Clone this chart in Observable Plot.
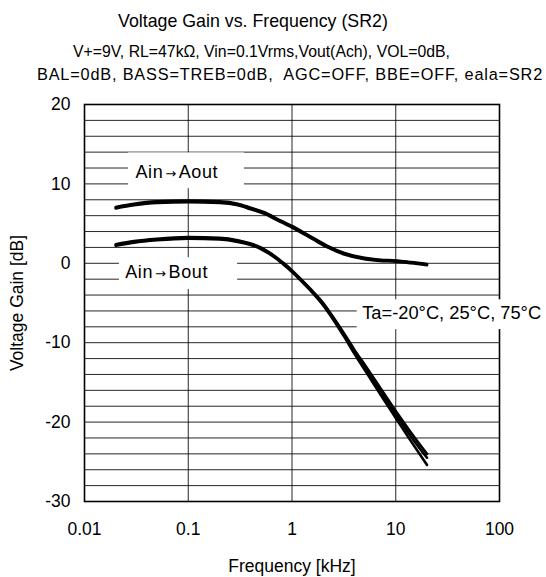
<!DOCTYPE html>
<html>
<head>
<meta charset="utf-8">
<script src="https://cdn.jsdelivr.net/npm/d3@7"></script>
<script src="https://cdn.jsdelivr.net/npm/@observablehq/plot@0.6"></script>
<style>
  body { margin: 0; background: #fff; font-family: "Liberation Sans", Arial, sans-serif; }
  #wrap { position: relative; width: 546px; height: 577px; overflow: hidden; }
  #chart { position: absolute; left: 0; top: 0; }
  .t { position: absolute; white-space: pre; color: #000; line-height: 1; }
</style>
</head>
<body>
<div id="wrap">
  <div id="chart"></div>
  <div class="t" style="left:118px; top:13px; font-size:17.8px;">Voltage Gain vs. Frequency (SR2)</div>
  <div class="t" style="left:73px; top:44px; font-size:15.8px;">V+=9V, RL=47kΩ, Vin=0.1Vrms,Vout(Ach), VOL=0dB,</div>
  <div class="t" style="left:37px; top:66px; font-size:16.3px; letter-spacing:0.82px;">BAL=0dB, BASS=TREB=0dB,  AGC=OFF, BBE=OFF, eala=SR2</div>
</div>
<script>
// ---- tick values ----
const xTicks = [0.01, 0.1, 1, 10, 100];
const yTicks = [-30, -20, -10, 0, 10, 20];
const yGrid = [-30,-28,-26,-24,-22,-20,-18,-16,-14,-12,-10,-8,-6,-4,-2,0,2,4,6,8,10,12,14,16,18,20];

// ---- Ain -> Aout (three temperatures) ----
const freqA = [0.02, 0.03, 0.05, 0.1, 0.2, 0.3, 0.4, 0.55, 0.7, 1, 1.6, 2.2, 3.2, 5, 7, 10, 14, 20];
const aoutM20 = [7.1, 7.5, 7.8, 7.9, 7.8, 7.5, 7.0, 6.4, 5.7, 4.7, 3.2, 2.2, 1.3, 0.7, 0.45, 0.35, 0.15, -0.1];
const aout25  = [7.0, 7.4, 7.7, 7.8, 7.7, 7.4, 6.9, 6.3, 5.6, 4.6, 3.1, 2.1, 1.2, 0.6, 0.4, 0.3, 0.1, -0.15];
const aout75  = [6.9, 7.3, 7.6, 7.7, 7.6, 7.3, 6.8, 6.2, 5.5, 4.5, 3.0, 2.0, 1.1, 0.5, 0.3, 0.2, 0.0, -0.25];

// ---- Ain -> Bout (three temperatures) ----
const freqB = [0.02, 0.03, 0.05, 0.1, 0.2, 0.3, 0.4, 0.5, 0.6, 0.7, 0.8, 0.9, 1, 1.2, 1.5, 2, 2.5, 3.2, 4, 5.3, 7.1, 10, 14, 20];
const boutM20 = [2.4, 2.8, 3.1, 3.3, 3.2, 2.9, 2.5, 2.0, 1.4, 0.8, 0.2, -0.35, -0.9, -1.9, -3.2, -5.0, -6.8, -8.9, -10.9, -13.2, -15.7, -18.6, -21.3, -24.0];
const bout25  = [2.3, 2.7, 3.0, 3.2, 3.1, 2.8, 2.4, 1.9, 1.3, 0.7, 0.1, -0.45, -1.0, -2.0, -3.3, -5.1, -6.9, -9.1, -11.1, -13.5, -16.0, -19.0, -21.8, -24.5];
const bout75  = [2.2, 2.6, 2.9, 3.1, 3.0, 2.7, 2.3, 1.8, 1.2, 0.6, 0.0, -0.55, -1.1, -2.1, -3.4, -5.3, -7.1, -9.3, -11.4, -13.9, -16.5, -19.5, -22.4, -25.4];

// ---- annotations (data units) ----
const labelText = ["Ain→Aout", "Ain→Bout", "Ta=-20°C, 25°C, 75°C"];
const labelFreq = [0.0776, 0.0619, 4.75];
const labelGain = [11.44, -1.09, -6.32];
const boxFreqLo = [0.0266, 0.0217, 4.25];
const boxFreqHi = [0.348, 0.299, 1000];
const boxGainLo = [9.4, -3.3, -8.35];
const boxGainHi = [13.9, 0.7, -4.6];

// build tables
const series = [];
[["Aout", "-20", aoutM20], ["Aout", "25", aout25], ["Aout", "75", aout75]].forEach(([o, t, v]) =>
  freqA.forEach((f, i) => series.push({key: o + t, f, g: v[i]})));
[["Bout", "-20", boutM20], ["Bout", "25", bout25], ["Bout", "75", bout75]].forEach(([o, t, v]) =>
  freqB.forEach((f, i) => series.push({key: o + t, f, g: v[i]})));
const labels = labelText.map((s, i) => ({s, f: labelFreq[i], g: labelGain[i], start: i === 2}));
const boxes = boxFreqLo.map((f, i) => ({f1: f, f2: boxFreqHi[i], g1: boxGainLo[i], g2: boxGainHi[i]}));

const chart = Plot.plot({
  width: 546,
  height: 577,
  marginTop: 104,
  marginBottom: 76,
  marginLeft: 84,
  marginRight: 47,
  style: {fontFamily: "'Liberation Sans', Arial, sans-serif", fontSize: "17.5px", color: "#000", background: "transparent"},
  x: {type: "log", domain: [0.01, 100]},
  y: {domain: [-30, 20]},
  marks: [
    Plot.ruleY(yGrid, {stroke: "#000", strokeWidth: 1, strokeOpacity: 0.85}),
    Plot.ruleX(xTicks, {stroke: "#000", strokeWidth: 1, strokeOpacity: 0.85}),
    Plot.frame({stroke: "#000", strokeWidth: 1.6}),
    Plot.rect(boxes, {x1: "f1", x2: "f2", y1: "g1", y2: "g2", fill: "white"}),
    Plot.line(series, {x: "f", y: "g", z: "key", stroke: "#000", strokeWidth: 2.6, curve: "monotone-x"}),
    Plot.text(labels.filter(d => !d.start), {x: "f", y: "g", text: "s", textAnchor: "middle", fontSize: 18, fill: "#000"}),
    Plot.text(labels.filter(d => d.start), {x: "f", y: "g", text: "s", textAnchor: "start", fontSize: 18.3, fill: "#000"}),
    Plot.axisX(xTicks, {tickSize: 0, tickPadding: 21, tickFormat: d => String(d), label: "Frequency [kHz]", labelAnchor: "center", labelOffset: 70, labelArrow: "none"}),
    Plot.axisY(yTicks, {tickSize: 0, tickPadding: 14, tickFormat: d => String(d), label: "Voltage Gain [dB]", labelAnchor: "center", labelOffset: 74, labelArrow: "none"})
  ]
});

// small arrow glyph inside the Ain→… labels
d3.select(chart).selectAll("text").each(function () {
  const s = this.textContent;
  if (s.includes("→")) {
    const [a, b] = s.split("→");
    const t = d3.select(this);
    t.text(null).attr("letter-spacing", "0.6px");
    t.append("tspan").text(a);
    t.append("tspan").attr("dx", 2).attr("font-size", 13).attr("font-family", "DejaVu Sans").text("→");
    t.append("tspan").attr("dx", 2).text(b);
  }
});
document.getElementById("chart").appendChild(chart);
</script>
</body>
</html>
